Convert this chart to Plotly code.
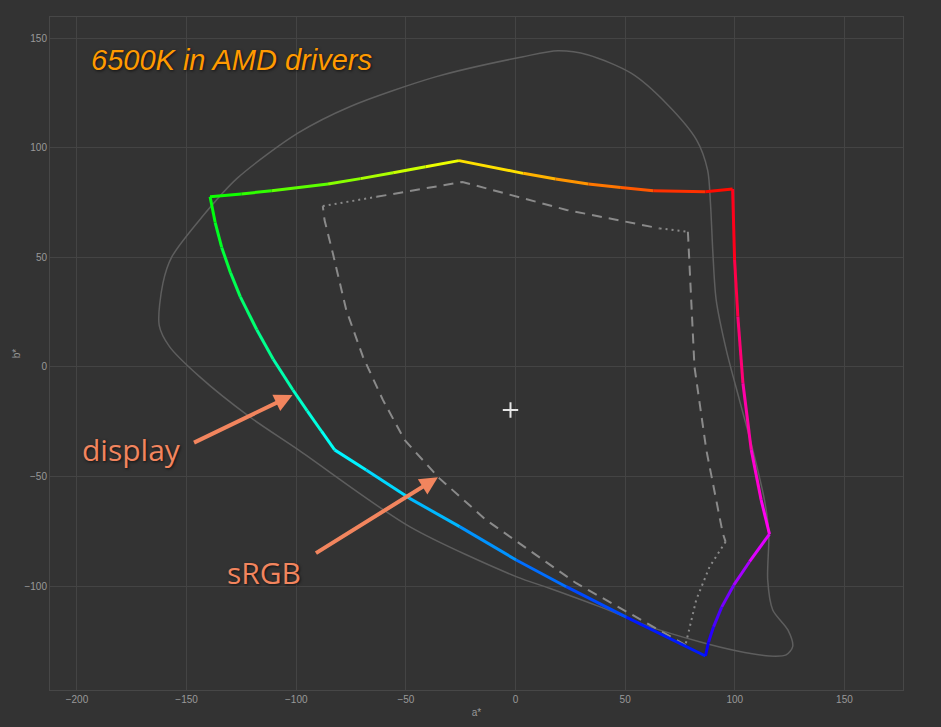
import colorsys
import numpy as np
import plotly.graph_objects as go

# display gamut boundary (a*, b*), going
# green -> yellow -> red -> magenta -> blue -> cyan -> green
disp_a = [-139.3, -125.0, -111.2, -85.5, -70.7, -55.8, -41.0, -25.8,
          3.5, 18.3, 33.2, 48.0, 62.8, 86.6, 99.0,
          99.9, 101.4, 103.7, 107.5, 112.0, 115.8,
          106.7, 99.5, 94.0, 90.3, 88.0, 86.6,
          50.5, 23.1, 0.3, -25.5, -48.3, -68.1, -82.5,
          -88.5, -95.0, -101.5, -110.5, -118.0, -125.5, -130.0, -134.0, -137.0, -139.3]
disp_b = [77.6, 78.9, 80.4, 83.4, 85.9, 88.6, 91.3, 94.1,
          88.3, 85.7, 83.4, 81.8, 80.4, 79.9, 81.2,
          48.8, 22.9, -7.4, -37.8, -60.6, -76.2,
          -88.8, -99.5, -109.5, -118.5, -125.5, -131.8,
          -114.1, -100.2, -88.0, -72.8, -59.9, -47.0, -37.8,
          -29.3, -20.0, -10.5, 3.5, 17.0, 32.0, 43.0, 54.5, 66.0, 77.6]
# index of each corner in the lists above, and the hue at that corner
disp_corners = [0, 7, 14, 20, 26, 33, 43]
corner_hues = [120, 60, 0, -60, -120, -180, -240]

# sRGB gamut boundary
srgb_a = [-87.9, -63.4, -24.2, 23.3, 65.7, 78.6, 79.3, 81.6, 87.0, 94.5, 95.8,
          88.5, 82.4, 79.3, 77.5, 27.7, -13.4, -34.7, -50.6, -60.5, -69.6,
          -77.2, -83.3, -87.1, -87.9]
srgb_b = [73.4, 77.6, 84.4, 71.6, 63.2, 61.7, 45.7, 0.1, -37.8, -75.8, -79.7,
          -91.1, -106.2, -118.4, -126.8, -98.6, -69.8, -50.8, -33.3, -15.0, 4.7,
          26.0, 51.8, 67.0, 73.4]
srgb_dotted = [(0, 1), (4, 5), (10, 14)]
srgb_dashed = [(1, 4), (5, 10), (14, 24)]

# visible colours outline (closed, starts on the lower left side)
locus_a = [-48.3, -99.0, -121.3, -144.1, -157.8, -162.5, -160.8, -156.7, -142.9,
           -127.0, -99.3, -75.6, -36.1, 3.5, 19.3, 33.2, 52.9, 68.8, 82.6, 87.6,
           88.9, 90.0, 91.5, 96.1, 102.1, 108.2, 113.5, 115.5, 115.0, 117.3, 124.2,
           126.4, 123.4, 115.8, 100.6, 83.9, 61.1, 38.3, 15.5, 0.3, -48.3]
locus_b = [-72.8, -37.8, -22.7, -4.4, 9.3, 19.0, 38.2, 50.3, 68.5,
           86.0, 106.6, 118.7, 132.4, 141.5, 144.2, 142.3, 133.9, 120.2, 103.5, 89.8,
           74.6, 52.0, 30.6, 7.8, -15.0, -37.8, -60.6, -75.8, -97.1, -110.8, -119.9,
           -127.5, -131.3, -131.8, -129.4, -125.3, -118.4, -109.3, -100.9, -95.6, -72.8]

white_point = (-2.3, -19.6)

BG = '#333333'
GRID = '#444444'
LABEL = '#f2855e'


def hue_color(h):
    r, g, b = colorsys.hls_to_rgb((h % 360) / 360.0, 0.5, 1.0)
    return f'rgb({int(r*255)},{int(g*255)},{int(b*255)})'


def point_hues(xs, ys, corners, hues):
    # hue along each edge follows the distance walked from its first corner
    out = np.zeros(len(xs))
    for k in range(len(corners) - 1):
        i0, i1 = corners[k], corners[k + 1]
        seg = np.hypot(np.diff(xs[i0:i1 + 1]), np.diff(ys[i0:i1 + 1]))
        t = np.concatenate([[0], np.cumsum(seg)]) / seg.sum()
        out[i0:i1 + 1] = hues[k] + (hues[k + 1] - hues[k]) * t
    return out


fig = go.Figure()

fig.add_trace(go.Scatter(
    x=locus_a, y=locus_b, mode='lines',
    line=dict(color='#5e5e5e', width=1.5, shape='spline', smoothing=0.8),
    hoverinfo='skip', showlegend=False))

for runs, dash in ((srgb_dashed, '10px,7px'), (srgb_dotted, '2px,4px')):
    for i0, i1 in runs:
        fig.add_trace(go.Scatter(
            x=srgb_a[i0:i1 + 1], y=srgb_b[i0:i1 + 1], mode='lines',
            line=dict(color='#8a8a8a', width=2, dash=dash),
            hoverinfo='skip', showlegend=False))

# colored display outline, one short trace per segment
hues = point_hues(np.array(disp_a), np.array(disp_b), disp_corners, corner_hues)
for i in range(len(disp_a) - 1):
    fig.add_trace(go.Scatter(
        x=disp_a[i:i + 2], y=disp_b[i:i + 2], mode='lines',
        line=dict(color=hue_color((hues[i] + hues[i + 1]) / 2), width=3),
        hoverinfo='skip', showlegend=False))

fig.add_trace(go.Scatter(
    x=[white_point[0]], y=[white_point[1]], mode='markers',
    marker=dict(symbol='cross-thin', size=11, line=dict(color='#e6e6e6', width=2)),
    hoverinfo='skip', showlegend=False))

shadow = '1px 1px 3px rgba(0,0,0,0.7)'
fig.add_annotation(
    x=-194.3, y=140, xanchor='left', yanchor='middle', showarrow=False,
    text='6500K in AMD drivers',
    font=dict(family='Liberation Sans, Arial', size=29, color='#ff9a00',
              style='italic', shadow=shadow))
fig.add_annotation(
    x=-175.1, y=-37.8, showarrow=False, text='display',
    font=dict(family='Open Sans', size=30, color=LABEL, shadow=shadow))
fig.add_annotation(
    x=-114.9, y=-93.9, showarrow=False, text='sRGB',
    font=dict(family='Open Sans', size=30, color=LABEL, shadow=shadow))

# arrows from the labels to the curves
for (x0, y0), (x1, y1) in (((-147.3, -34.8), (-101.7, -12.8)),
                           ((-91.7, -85.3), (-35.4, -50.3))):
    fig.add_annotation(
        x=x1, y=y1, ax=x0, ay=y0, xref='x', yref='y', axref='x', ayref='y',
        text='', showarrow=True, arrowhead=2, arrowsize=0.9,
        arrowwidth=4, arrowcolor=LABEL)

axis_common = dict(
    showgrid=True, gridcolor=GRID, gridwidth=1,
    zeroline=True, zerolinecolor=GRID, zerolinewidth=1,
    showline=True, linecolor='#474747', linewidth=1, mirror=True,
    tickfont=dict(family='Liberation Sans, Arial', size=10, color='#999999'),
    dtick=50, ticks='', automargin=False,
)

fig.update_layout(
    width=941, height=727,
    paper_bgcolor=BG, plot_bgcolor=BG,
    margin=dict(l=50, r=38, t=17, b=37),
    xaxis=dict(range=[-212.3, 176.7], title=dict(
        text='a*', standoff=4,
        font=dict(family='Liberation Sans, Arial', size=10, color='#999999')),
        **axis_common),
    yaxis=dict(range=[-147.3, 159.6], title=dict(
        text='b*', standoff=1,
        font=dict(family='Liberation Sans, Arial', size=10, color='#999999')),
        **axis_common),
    showlegend=False,
)

fig.write_html('out.html', config={'displayModeBar': False},
               post_script="document.body.style.margin='0';")
